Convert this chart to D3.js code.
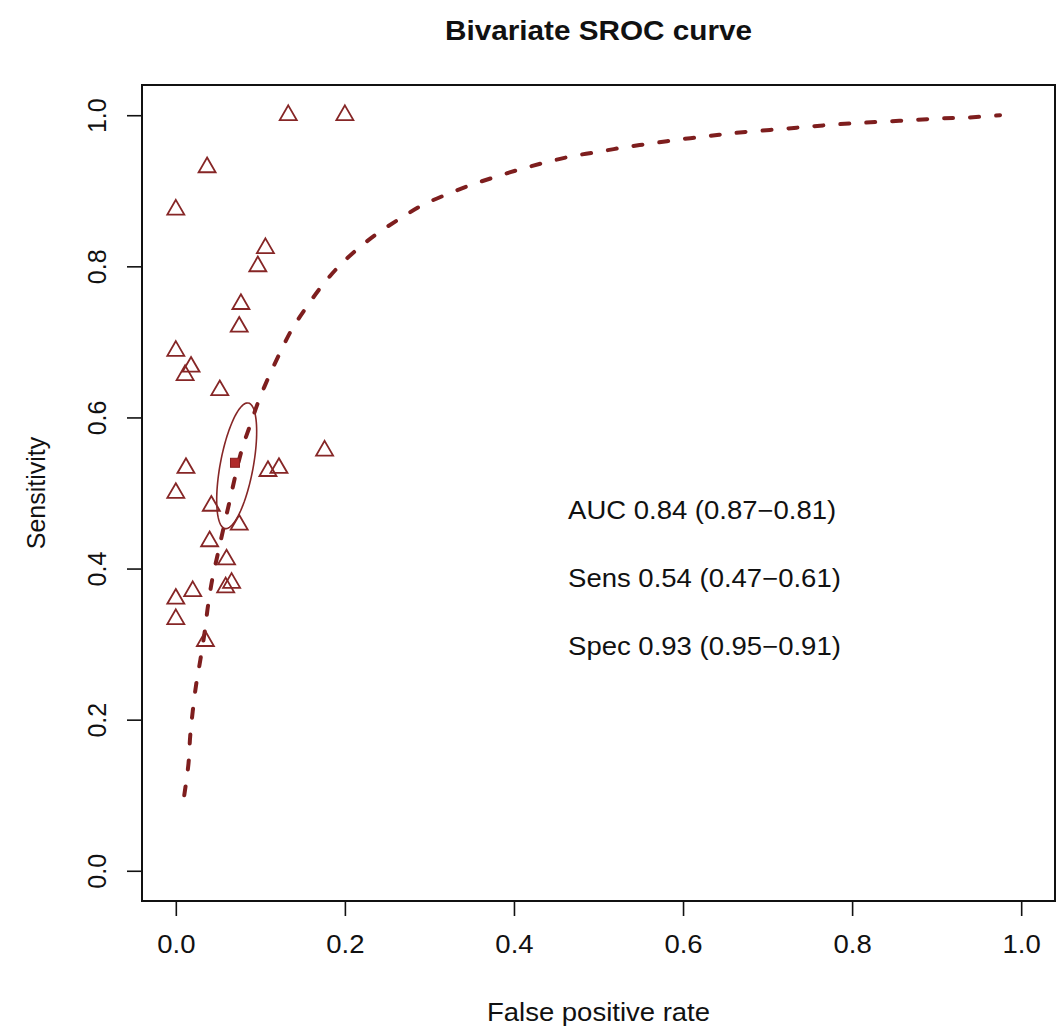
<!DOCTYPE html>
<html>
<head>
<meta charset="utf-8">
<script src="https://cdn.jsdelivr.net/npm/d3@7"></script>
<style>
  body { margin: 0; background: #fff; }
  text { font-family: "Liberation Sans", Arial, Helvetica, sans-serif; fill: #111; }
</style>
</head>
<body>
<div id="canvas"></div>
<script>
// study points (false positive rate, sensitivity)
const studyFpr = [0.133, 0.200, 0.037, 0.000, 0.106, 0.097, 0.077, 0.075, 0.000, 0.018,
                  0.011, 0.052, 0.176, 0.012, 0.109, 0.122, 0.000, 0.042, 0.075, 0.040,
                  0.060, 0.066, 0.059, 0.020, 0.000, 0.000, 0.035];
const studySens = [1.000, 1.000, 0.931, 0.875, 0.824, 0.800, 0.750, 0.720, 0.688, 0.667,
                   0.656, 0.636, 0.556, 0.533, 0.529, 0.533, 0.500, 0.483, 0.458, 0.436,
                   0.412, 0.381, 0.375, 0.370, 0.360, 0.333, 0.304];

// SROC curve
const srocFpr = [0.010, 0.015, 0.017, 0.020, 0.024, 0.029, 0.034, 0.038, 0.043, 0.049,
                 0.063, 0.078, 0.088, 0.098, 0.110, 0.123, 0.137, 0.154, 0.172, 0.192,
                 0.214, 0.239, 0.265, 0.290, 0.320, 0.350, 0.380, 0.409, 0.439, 0.470,
                 0.502, 0.533, 0.565, 0.596, 0.628, 0.656, 0.687, 0.719, 0.750, 0.782,
                 0.813, 0.845, 0.877, 0.908, 0.938, 0.975];
const srocSens = [0.100, 0.142, 0.178, 0.211, 0.246, 0.279, 0.315, 0.350, 0.385, 0.416,
                  0.486, 0.557, 0.590, 0.622, 0.654, 0.685, 0.716, 0.745, 0.773, 0.799,
                  0.822, 0.844, 0.863, 0.880, 0.895, 0.908, 0.919, 0.929, 0.938, 0.946,
                  0.952, 0.958, 0.963, 0.968, 0.972, 0.976, 0.979, 0.982, 0.985, 0.988,
                  0.990, 0.992, 0.994, 0.996, 0.997, 1.000];

// summary estimate and its confidence ellipse
const summaryPoint = [0.07, 0.54];
const ellipseCenter = [0.072, 0.536];
const ellipseMajor = [0.0138, 0.0831];
const ellipseMinor = [0.0192, -0.0040];

const tickValues = [0, 0.2, 0.4, 0.6, 0.8, 1.0];
const statLines = ["AUC 0.84 (0.87\u22120.81)", "Sens 0.54 (0.47\u22120.61)", "Spec 0.93 (0.95\u22120.91)"];
const statY = [0.478, 0.388, 0.298];

const width = 1063;
const height = 1027;
const box = { left: 142, right: 1055, top: 85, bottom: 901 };
const col = "#862626";
const stretch = 1.1;

const svg = d3.select("#canvas").append("svg")
    .attr("width", width)
    .attr("height", height);

const x = d3.scaleLinear().domain([-0.04, 1.04]).range([box.left, box.right]);
const y = d3.scaleLinear().domain([-0.04, 1.04]).range([box.bottom, box.top]);

function addText(px, py, str, size, weight) {
    return svg.append("text")
        .attr("transform", `translate(${px},${py}) scale(${stretch},1)`)
        .attr("text-anchor", "middle")
        .style("font-size", size + "px")
        .style("font-weight", weight || "normal")
        .text(str);
}

// axes
const xAxis = svg.append("g")
    .attr("transform", `translate(0,${box.bottom})`)
    .call(d3.axisBottom(x).tickValues(tickValues).tickSize(15).tickFormat(d3.format(".1f")));
xAxis.select(".domain").remove();
xAxis.selectAll("line").attr("stroke", "#111").attr("stroke-width", 1.6);
xAxis.selectAll("text")
    .attr("y", null).attr("dy", null)
    .attr("transform", `translate(0,52) scale(${stretch},1)`)
    .attr("fill", "#111")
    .style("font-size", "25px")
    .style("font-family", '"Liberation Sans", Arial, sans-serif');

const yAxis = svg.append("g")
    .attr("transform", `translate(${box.left},0)`)
    .call(d3.axisLeft(y).tickValues(tickValues).tickSize(15).tickFormat(d3.format(".1f")));
yAxis.select(".domain").remove();
yAxis.selectAll("line").attr("stroke", "#111").attr("stroke-width", 1.6);
yAxis.selectAll("text")
    .attr("x", null).attr("dy", null)
    .attr("text-anchor", "middle")
    .attr("transform", "translate(-36,0) rotate(-90)")
    .attr("fill", "#111")
    .style("font-size", "25px")
    .style("font-family", '"Liberation Sans", Arial, sans-serif');

// plot box
svg.append("rect")
    .attr("x", box.left)
    .attr("y", box.top)
    .attr("width", box.right - box.left)
    .attr("height", box.bottom - box.top)
    .attr("fill", "none")
    .attr("stroke", "#111")
    .attr("stroke-width", 2);

// SROC curve
const sroc = srocFpr.map((d, i) => [d, srocSens[i]]);
svg.append("path")
    .datum(sroc)
    .attr("fill", "none")
    .attr("stroke", "#7e1e1e")
    .attr("stroke-width", 4)
    .attr("stroke-linecap", "round")
    .attr("stroke-dasharray", "9,17")
    .attr("d", d3.line().x(d => x(d[0])).y(d => y(d[1])).curve(d3.curveCatmullRom));

// confidence ellipse
const ellipsePts = d3.range(0, 101).map(i => {
    const t = i / 100 * 2 * Math.PI;
    return [
        ellipseCenter[0] + Math.cos(t) * ellipseMajor[0] + Math.sin(t) * ellipseMinor[0],
        ellipseCenter[1] + Math.cos(t) * ellipseMajor[1] + Math.sin(t) * ellipseMinor[1]
    ];
});
svg.append("path")
    .datum(ellipsePts)
    .attr("fill", "none")
    .attr("stroke", col)
    .attr("stroke-width", 1.6)
    .attr("d", d3.line().x(d => x(d[0])).y(d => y(d[1])));

// study triangles
const studies = studyFpr.map((d, i) => ({ fpr: d, sens: studySens[i] }));
svg.selectAll(".study").data(studies)
    .enter().append("path")
    .attr("class", "study")
    .attr("transform", d => `translate(${x(d.fpr)},${y(d.sens)})`)
    .attr("d", "M0,-9.8L8.5,4.9L-8.5,4.9Z")
    .attr("fill", "none")
    .attr("stroke", col)
    .attr("stroke-width", 1.8);

// summary point
svg.append("rect")
    .attr("x", x(summaryPoint[0]) - 4.5)
    .attr("y", y(summaryPoint[1]) - 4.5)
    .attr("width", 9)
    .attr("height", 9)
    .attr("fill", "#b02a2a")
    .attr("stroke", "#8b2020")
    .attr("stroke-width", 1);

// statistics
statLines.forEach((s, i) => {
    addText(x(0.464), y(statY[i]) + 9, s, 25).attr("text-anchor", "start");
});

// titles
addText((box.left + box.right) / 2, 40, "Bivariate SROC curve", 27, "bold");
addText((box.left + box.right) / 2, 1021, "False positive rate", 25);
svg.append("text")
    .attr("transform", `translate(45,${(box.top + box.bottom) / 2}) rotate(-90)`)
    .attr("text-anchor", "middle")
    .style("font-size", "25px")
    .text("Sensitivity");
</script>
</body>
</html>
